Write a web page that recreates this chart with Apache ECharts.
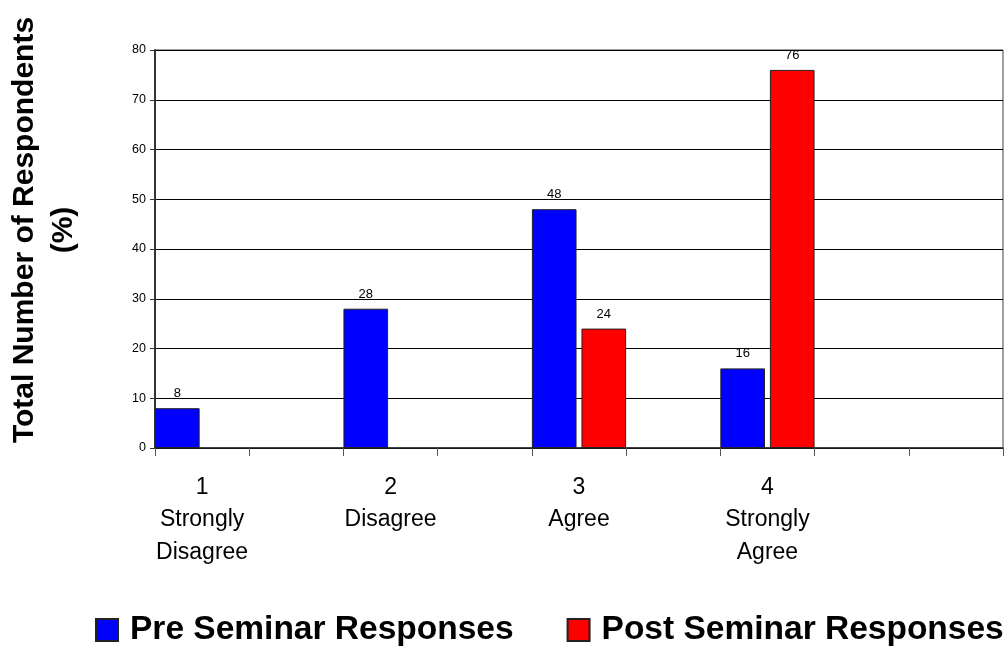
<!DOCTYPE html>
<html>
<head>
<meta charset="utf-8">
<title>Pre and Post Seminar Responses</title>
<script src="https://cdn.jsdelivr.net/npm/echarts@6/dist/echarts.min.js"></script>
<style>
  html, body { margin: 0; padding: 0; background: #fff; }
  #chart { width: 1008px; height: 648px; }
</style>
</head>
<body>
<div id="chart"></div>
<script>
// Likert scale slots; the blank slots keep the spacing between answer groups
const categories = ['1\nStrongly\nDisagree', '', '2\nDisagree', '', '3\nAgree', '', '4\nStrongly\nAgree', '', ''];
// Share of respondents (%) per answer
const preSeminar = [8, null, 28, null, 48, null, 16, null, null];
const postSeminar = [null, null, null, null, 24, null, 76, null, null];
const seriesNames = ['Pre Seminar Responses', 'Post Seminar Responses'];
const axisTitle = 'Total Number of Respondents\n(%)';

const FONT = '"Liberation Sans", Arial, Helvetica, sans-serif';

const chart = echarts.init(document.getElementById('chart'), null, { renderer: 'canvas' });

const valueLabel = {
  show: true,
  position: 'top',
  distance: 8,
  color: '#000',
  fontFamily: FONT,
  fontSize: 13
};

chart.setOption({
  animation: false,
  backgroundColor: '#ffffff',
  grid: {
    left: 155, right: 5, top: 50, bottom: 200,
    show: true,
    borderColor: '#444',
    borderWidth: 1,
    backgroundColor: 'transparent'
  },
  legend: {
    data: seriesNames,
    left: 95,
    top: 613,
    padding: 0,
    itemWidth: 22,
    itemHeight: 22,
    itemGap: 53,
    icon: 'rect',
    textStyle: {
      fontFamily: FONT,
      fontWeight: 'bold',
      fontSize: 33.5,
      color: '#000',
      padding: [0, 0, 0, 7]
    }
  },
  graphic: [{
    type: 'text',
    x: 44,
    y: 230,
    rotation: Math.PI / 2,
    style: {
      text: axisTitle,
      font: 'bold 30px ' + FONT,
      fill: '#000',
      align: 'center',
      verticalAlign: 'middle',
      textAlign: 'center',
      textVerticalAlign: 'middle',
      lineHeight: 39
    }
  }],
  xAxis: {
    type: 'category',
    data: categories,
    boundaryGap: true,
    axisLine: { lineStyle: { color: '#222', width: 1.5 } },
    axisTick: { show: true, interval: 0, length: 8, lineStyle: { color: '#555', width: 1 } },
    axisLabel: {
      interval: 0,
      margin: 23,
      color: '#000',
      fontFamily: FONT,
      fontSize: 23,
      lineHeight: 32.5,
      align: 'center'
    },
    splitLine: { show: false }
  },
  yAxis: {
    type: 'value',
    min: 0,
    max: 80,
    interval: 10,
    axisLine: { show: true, lineStyle: { color: '#333', width: 2 } },
    axisTick: { show: true, length: 5, lineStyle: { color: '#333', width: 1 } },
    axisLabel: {
      margin: 9,
      color: '#000',
      fontFamily: FONT,
      fontSize: 12.5
    },
    splitLine: { show: true, lineStyle: { color: '#000', width: 1 } }
  },
  series: [
    {
      name: seriesNames[0],
      type: 'bar',
      data: preSeminar,
      barGap: '11%',
      barCategoryGap: '0%',
      itemStyle: { color: '#0000FF', borderColor: '#222', borderWidth: 1 },
      label: valueLabel
    },
    {
      name: seriesNames[1],
      type: 'bar',
      data: postSeminar,
      barGap: '11%',
      barCategoryGap: '0%',
      itemStyle: { color: '#FF0000', borderColor: '#222', borderWidth: 1 },
      label: valueLabel
    }
  ]
});
</script>
</body>
</html>
